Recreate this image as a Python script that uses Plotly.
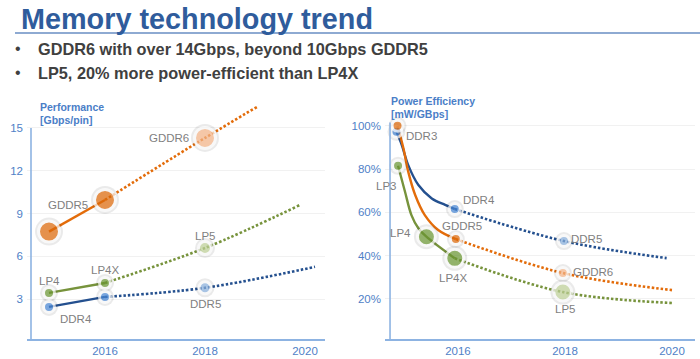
import plotly.graph_objects as go

FONT = "Liberation Sans, Arial, sans-serif"

# ---------------- data: left chart (Performance, Gbps/pin) ----------------
perf_x_ticks = [2016, 2018, 2020]
perf_y_ticks = [3, 6, 9, 12, 15]

gddr_solid_x = [2014.88, 2016.0]
gddr_solid_y = [7.73, 9.95]
gddr_trend_x = [2016.0, 2018.0, 2019.04]
gddr_trend_y = [9.95, 14.3, 16.47]

lp_solid_x = [2014.88, 2016.0]
lp_solid_y = [3.43, 4.13]
lp_trend_x = [2016.0, 2018.0, 2019.9]
lp_trend_y = [4.13, 6.58, 9.6]

ddr_solid_x = [2014.88, 2016.0]
ddr_solid_y = [2.45, 3.15]
ddr_trend_x = [2016.0, 2018.0, 2020.2]
ddr_trend_y = [3.15, 3.79, 5.26]

perf_pt_x = [2014.88, 2016.0, 2018.0, 2014.88, 2016.0, 2018.0, 2014.88, 2016.0, 2018.0]
perf_pt_y = [7.73, 9.95, 14.3, 3.43, 4.13, 6.58, 2.45, 3.15, 3.79]
perf_pt_kind = ["gddr", "gddr", "gddr_new", "lp", "lp", "lp_new", "ddr", "ddr", "ddr_new"]

perf_labels = ["GDDR5", "GDDR6", "LP4", "LP4X", "LP5", "DDR4", "DDR5"]
perf_label_pt = [0, 2, 3, 4, 5, 6, 8]

# ---------------- data: right chart (Power efficiency, mW/GBps) ----------------
eff_x_ticks = [2016, 2018, 2020]
eff_y_ticks = [20, 40, 60, 80, 100]
eff_y_ticktext = ["20%", "40%", "60%", "80%", "100%"]

ddr_eff_x = [2014.85, 2014.95, 2015.07, 2015.26, 2015.51, 2015.76, 2015.94]
ddr_eff_y = [97.2, 91.1, 81.8, 72.6, 66.4, 63.4, 61.5]
ddr_eff_trend_x = [2015.94, 2017.98, 2019.9]
ddr_eff_trend_y = [61.5, 46.7, 38.8]

gddr_eff_x = [2014.87, 2014.98, 2015.07, 2015.2, 2015.38, 2015.63, 2015.96]
gddr_eff_y = [100.0, 89.6, 78.8, 68.0, 58.7, 51.8, 47.6]
gddr_eff_trend_x = [2015.96, 2017.96, 2020.0]
gddr_eff_trend_y = [47.6, 31.9, 24.0]

lp_eff_x = [2014.88, 2015.01, 2015.13, 2015.26, 2015.41, 2015.94]
lp_eff_y = [81.5, 69.5, 58.7, 52.6, 48.7, 38.7]
lp_eff_trend_x = [2015.94, 2017.96, 2020.02]
lp_eff_trend_y = [38.7, 23.1, 18.0]

eff_pt_x = [2014.85, 2014.87, 2014.88, 2015.94, 2015.96, 2015.41, 2015.94, 2017.98, 2017.96, 2017.96]
eff_pt_y = [97.2, 100.0, 81.5, 61.5, 47.6, 48.7, 38.7, 46.7, 31.9, 23.1]
eff_pt_kind = ["ddr", "gddr", "lp", "ddr", "gddr", "lp_big", "lp_big", "ddr_new", "gddr_new", "lp_new_big"]

eff_labels = ["DDR3", "LP3", "DDR4", "GDDR5", "LP4", "LP4X", "DDR5", "GDDR6", "LP5"]
eff_label_pt = [1, 2, 3, 4, 5, 6, 7, 8, 9]

title_text = "Memory technology trend"
bullets = ["GDDR6 with over 14Gbps, beyond 10Gbps GDDR5",
           "LP5, 20% more power-efficient than LP4X"]

# ---------------- styles ----------------
ORANGE = "#E36C0A"
GREEN = "#77933C"
NAVY = "#24508F"
LABEL_GRAY = "#7F7F7F"
AXIS_BLUE = "#8DB3E2"
TICK_BLUE = "#4F81C7"
TITLE_BLUE = "#2F5C9C"

perf_kind_style = {
    "gddr": (ORANGE, 21), "gddr_new": ("#FAB98C", 21),
    "lp": ("#6E9B34", 11), "lp_new": ("#C3D69B", 13),
    "ddr": ("#4A8AD9", 11), "ddr_new": ("#8DB4E2", 12),
}
eff_kind_style = {
    "ddr": ("#4A8AD9", 11), "gddr": (ORANGE, 11), "lp": ("#6E9B34", 11),
    "lp_big": ("#6E9B34", 18), "ddr_new": ("#8DB4E2", 11),
    "gddr_new": ("#FAB98C", 11), "lp_new_big": ("#C3D69B", 18),
}
perf_label_shift = [(19, 27), (-36, 0), (0, 12), (0, 13), (0, 12), (27, -12), (0, -16)]
eff_label_shift = [(24, -10), (-12, -20), (24, 9), (6, 13), (-26, 4), (-2, -20), (23, 2), (30, 1), (2, -17)]

fig = go.Figure()


def add_line(x, y, color, xa, ya, dotted=False, spline=False):
    fig.add_trace(go.Scatter(
        x=x, y=y, mode="lines", xaxis=xa, yaxis=ya, hoverinfo="skip",
        line=dict(color=color, width=2.6 if dotted else 2.4,
                  dash="2.5px,2px" if dotted else "solid",
                  shape="spline" if spline else "linear", smoothing=1.0),
        showlegend=False))


def add_points(xs, ys, kinds, styles, xa, ya):
    cols = [styles[k][0] for k in kinds]
    sizes = [styles[k][1] for k in kinds]
    fig.add_trace(go.Scatter(
        x=xs, y=ys, mode="markers", xaxis=xa, yaxis=ya, hoverinfo="skip",
        marker=dict(size=[s + 7 for s in sizes], color="rgba(0,0,0,0.12)", line=dict(width=0)),
        showlegend=False, cliponaxis=False))
    fig.add_trace(go.Scatter(
        x=xs, y=ys, mode="markers", xaxis=xa, yaxis=ya, hoverinfo="skip",
        marker=dict(size=sizes, color=cols, line=dict(color="white", width=3)),
        showlegend=False, cliponaxis=False))


# left chart
add_line(gddr_solid_x, gddr_solid_y, ORANGE, "x", "y")
add_line(gddr_trend_x, gddr_trend_y, ORANGE, "x", "y", dotted=True, spline=True)
add_line(lp_solid_x, lp_solid_y, GREEN, "x", "y")
add_line(lp_trend_x, lp_trend_y, GREEN, "x", "y", dotted=True, spline=True)
add_line(ddr_solid_x, ddr_solid_y, NAVY, "x", "y")
add_line(ddr_trend_x, ddr_trend_y, NAVY, "x", "y", dotted=True, spline=True)
add_points(perf_pt_x, perf_pt_y, perf_pt_kind, perf_kind_style, "x", "y")

# right chart
add_line(ddr_eff_x, ddr_eff_y, NAVY, "x2", "y2", spline=True)
add_line(ddr_eff_trend_x, ddr_eff_trend_y, NAVY, "x2", "y2", dotted=True, spline=True)
add_line(gddr_eff_x, gddr_eff_y, ORANGE, "x2", "y2", spline=True)
add_line(gddr_eff_trend_x, gddr_eff_trend_y, ORANGE, "x2", "y2", dotted=True, spline=True)
add_line(lp_eff_x, lp_eff_y, GREEN, "x2", "y2", spline=True)
add_line(lp_eff_trend_x, lp_eff_trend_y, GREEN, "x2", "y2", dotted=True, spline=True)
add_points(eff_pt_x, eff_pt_y, eff_pt_kind, eff_kind_style, "x2", "y2")

W, H = 700, 359


def px_x(p):
    return p / W


def px_y(p):
    return 1 - p / H


annotations = []
for txt, idx, (dx, dy) in zip(perf_labels, perf_label_pt, perf_label_shift):
    annotations.append(dict(x=perf_pt_x[idx], y=perf_pt_y[idx], xref="x", yref="y", text=txt,
                            showarrow=False, xshift=dx, yshift=dy,
                            font=dict(family=FONT, size=11.5, color=LABEL_GRAY)))
for txt, idx, (dx, dy) in zip(eff_labels, eff_label_pt, eff_label_shift):
    annotations.append(dict(x=eff_pt_x[idx], y=eff_pt_y[idx], xref="x2", yref="y2", text=txt,
                            showarrow=False, xshift=dx, yshift=dy,
                            font=dict(family=FONT, size=11.5, color=LABEL_GRAY)))

# title and bullets
annotations.append(dict(x=px_x(19), y=px_y(19), xref="paper", yref="paper", xanchor="left",
                        yanchor="middle", showarrow=False, text="<b>%s</b>" % title_text,
                        font=dict(family=FONT, size=28.8, color=TITLE_BLUE)))
for i, b in enumerate(bullets):
    yy = px_y(49 + 23.5 * i)
    annotations.append(dict(x=px_x(13), y=yy, xref="paper", yref="paper", xanchor="left",
                            yanchor="middle", showarrow=False, text="•",
                            font=dict(family=FONT, size=16, color="#404040")))
    annotations.append(dict(x=px_x(36), y=yy, xref="paper", yref="paper", xanchor="left",
                            yanchor="middle", showarrow=False, text="<b>%s</b>" % b,
                            font=dict(family=FONT, size=16.3, color="#404040")))

# axis titles
for txt, xp, yp in [("Performance", 38, 107), ("[Gbps/pin]", 38, 119.5),
                    ("Power Efficiency", 389, 101), ("[mW/GBps]", 389, 113.5)]:
    annotations.append(dict(x=px_x(xp), y=px_y(yp), xref="paper", yref="paper", xanchor="left",
                            yanchor="middle", showarrow=False, text="<b>%s</b>" % txt,
                            font=dict(family=FONT, size=10.5, color="#4A7EC7")))

shapes = [
    dict(type="line", xref="paper", yref="paper", x0=px_x(15), x1=1.0, y0=px_y(33), y1=px_y(33),
         line=dict(color="#8EAAD2", width=2)),
    # vertical axis lines
    dict(type="line", xref="x", yref="y", x0=2014.52, x1=2014.52, y0=0.0, y1=15.0,
         line=dict(color=AXIS_BLUE, width=1.6)),
    dict(type="line", xref="x2", yref="y2", x0=2014.73, x1=2014.73, y0=0.5, y1=101.5,
         line=dict(color=AXIS_BLUE, width=1.6)),
]

y_dom = [1 - 339 / H, 1 - 99.4 / H]
common_x = dict(showline=True, linecolor=AXIS_BLUE, linewidth=1.6, showgrid=False, zeroline=False,
                ticks="", tickfont=dict(family=FONT, size=11.5, color=TICK_BLUE), fixedrange=True)
common_y = dict(showline=False, showgrid=True, gridcolor="#F1F1F1", gridwidth=1, zeroline=False,
                ticks="", tickfont=dict(family=FONT, size=11.5, color=TICK_BLUE), fixedrange=True,
                ticklabelstandoff=3)

fig.update_layout(
    width=W, height=H, margin=dict(l=0, r=0, t=0, b=0),
    paper_bgcolor="white", plot_bgcolor="rgba(0,0,0,0)",
    showlegend=False,
    xaxis=dict(domain=[27 / W, 325 / W], range=[2014.44, 2020.4], anchor="y",
               tickvals=perf_x_ticks, ticktext=[str(v) for v in perf_x_ticks], **common_x),
    yaxis=dict(domain=y_dom, range=[0.2, 17.0], anchor="x", tickvals=perf_y_ticks,
               ticktext=[str(v) for v in perf_y_ticks], **common_y),
    xaxis2=dict(domain=[385 / W, 695 / W], range=[2014.636, 2020.43], anchor="y2",
                tickvals=eff_x_ticks, ticktext=[str(v) for v in eff_x_ticks], **common_x),
    yaxis2=dict(domain=y_dom, range=[1.39, 112.2], anchor="x2", tickvals=eff_y_ticks,
                ticktext=eff_y_ticktext, **common_y),
    annotations=annotations, shapes=shapes,
)

fig.write_html("out.html", config={"displayModeBar": False},
               post_script="document.body.style.margin='0';document.body.style.overflow='hidden';")
